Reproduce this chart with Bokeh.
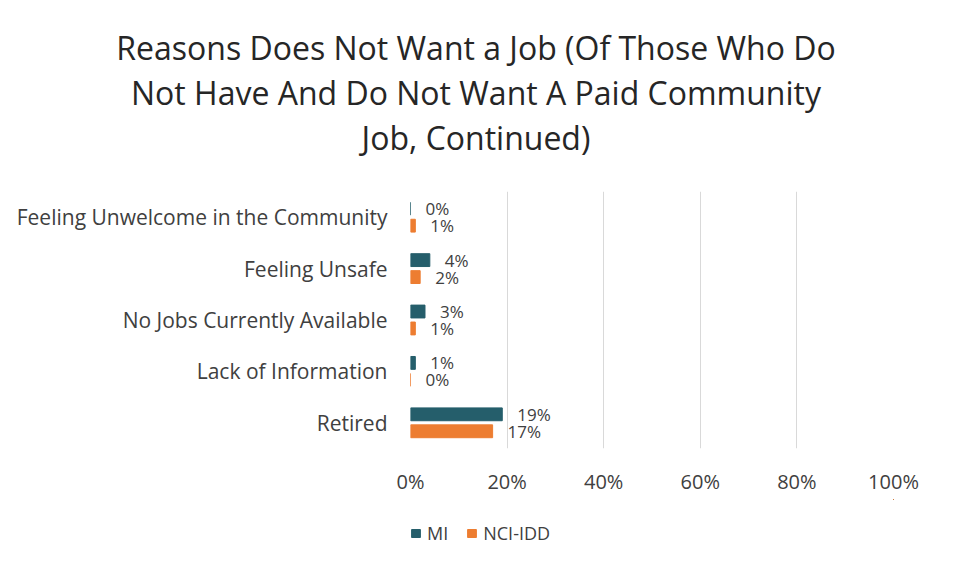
from bokeh.plotting import figure
from bokeh.layouts import column
from bokeh.models import (ColumnDataSource, FactorRange, FixedTicker, LabelSet, Div,
                          Legend, LegendItem, Range1d)
from bokeh.core.properties import value
from bokeh.transform import dodge
from bokeh.embed import file_html
from bokeh.resources import INLINE

categories = ["Feeling Unwelcome in the Community", "Feeling Unsafe",
              "No Jobs Currently Available", "Lack of Information", "Retired"]
mi_values = [0, 4, 3, 1, 19]
nci_values = [1, 2, 1, 0, 17]
series_names = ["MI", "NCI-IDD"]
x_ticks = [0, 20, 40, 60, 80, 100]
x_tick_labels = ["0%", "20%", "40%", "60%", "80%", "100%"]
title_lines = ["Reasons Does Not Want a Job (Of Those Who Do",
               "Not Have And Do Not Want A Paid Community",
               "Job, Continued)"]

FONT = "Open Sans"
MI_COLOR = "#255E6B"
NCI_COLOR = "#ED7D31"
TEXT_COLOR = "#404040"
W = 949

# ---- title block ----
title_div = Div(text="<br>".join(title_lines), width=W, height=174,
                styles={"font-family": FONT, "font-size": "32px", "line-height": "45px",
                        "text-align": "center", "color": "#262626",
                        "padding-top": "20px", "box-sizing": "border-box",
                        "padding-right": "7px"})

# ---- main chart ----
src = ColumnDataSource(dict(
    cat=categories,
    mi=mi_values,
    nci=nci_values,
    mi_lab=[f"{v}%" for v in mi_values],
    nci_lab=[f"{v}%" for v in nci_values],
))

p = figure(width=W, height=315, output_backend="svg", toolbar_location=None,
           y_range=FactorRange(factors=categories[::-1]), x_range=(0, 100),
           min_border_left=410, min_border_right=56, min_border_top=7,
           min_border_bottom=51)
p.title = None
p.outline_line_color = None
p.background_fill_color = "white"
p.border_fill_color = "white"

p.hbar(y=dodge("cat", 0.165, range=p.y_range), right="mi", left=0, height=0.25,
       color=MI_COLOR, source=src)
p.hbar(y=dodge("cat", -0.165, range=p.y_range), right="nci", left=0, height=0.25,
       color=NCI_COLOR, source=src)

for col, lab, off in (("mi", "mi_lab", 0.165), ("nci", "nci_lab", -0.165)):
    p.add_layout(LabelSet(x=col, y=dodge("cat", off, range=p.y_range), text=lab,
                          x_offset=15, source=src, text_font=value(FONT),
                          text_font_size=value("17px"), text_color=TEXT_COLOR,
                          text_baseline="middle", text_align="left"))

p.xaxis.ticker = FixedTicker(ticks=x_ticks)
p.xaxis.major_label_overrides = {t_: l for t_, l in zip(x_ticks, x_tick_labels)}
p.xaxis.axis_line_color = None
p.xaxis.major_tick_line_color = None
p.xaxis.major_tick_out = 0
p.xaxis.major_tick_in = 0
p.xaxis.minor_tick_line_color = None
p.xaxis.major_label_text_font = FONT
p.xaxis.major_label_text_font_size = "20px"
p.xaxis.major_label_text_color = TEXT_COLOR
p.xaxis.major_label_standoff = 19

p.yaxis.axis_line_color = None
p.yaxis.major_tick_line_color = None
p.yaxis.major_tick_out = 0
p.yaxis.major_tick_in = 0
p.yaxis.minor_tick_line_color = None
p.yaxis.major_label_text_font = FONT
p.yaxis.major_label_text_font_size = "21px"
p.yaxis.major_label_text_color = TEXT_COLOR
p.yaxis.major_label_standoff = 23

p.xgrid.grid_line_color = "#D9D9D9"
p.xgrid.grid_line_width = 1
p.ygrid.grid_line_color = None

# ---- legend block (glyphs share the chart data, kept outside the visible range) ----
lf = figure(width=W, height=70, output_backend="svg", toolbar_location=None,
            x_axis_location=None, y_axis_location=None, min_border=0,
            x_range=Range1d(-2, -1), y_range=Range1d(-2, -1))
lf.grid.visible = False
lf.outline_line_color = None
lf.border_fill_color = "white"
lf.background_fill_color = "white"
g_mi = lf.hbar(y="mi", right="mi", left=0, height=0.25, color=MI_COLOR, source=src)
g_nci = lf.hbar(y="nci", right="nci", left=0, height=0.25, color=NCI_COLOR, source=src)
lg = Legend(items=[LegendItem(label=series_names[0], renderers=[g_mi]),
                   LegendItem(label=series_names[1], renderers=[g_nci])],
            orientation="horizontal", location=(0, 24))
lg.glyph_width = 11
lg.glyph_height = 10
lg.padding = 0
lg.margin = 0
lg.spacing = 18
lg.label_standoff = 6
lg.label_text_font = FONT
lg.label_text_font_size = "18px"
lg.label_text_color = TEXT_COLOR
lg.border_line_color = None
lg.background_fill_alpha = 0
lf.add_layout(lg, "center")

layout = column(title_div, p, lf, spacing=0)
open("out.html", "w").write(file_html(layout, INLINE))
